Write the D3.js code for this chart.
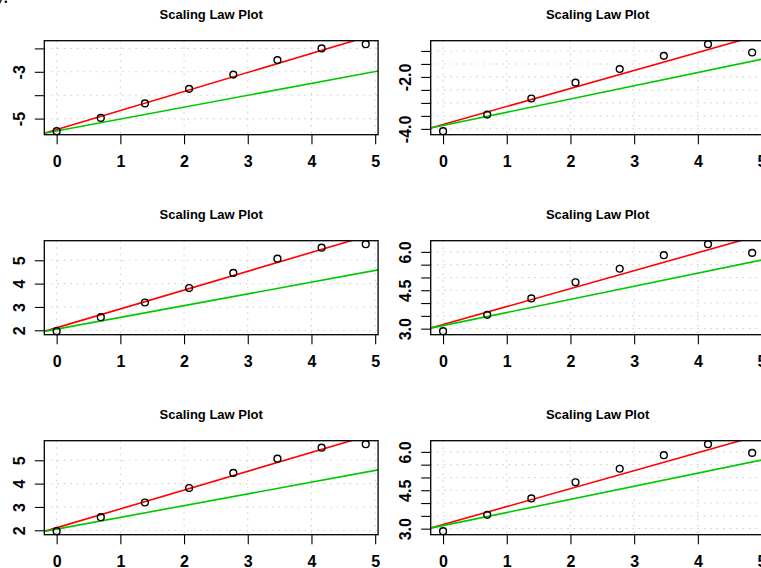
<!DOCTYPE html>
<html>
<head>
<meta charset="utf-8">
<script src="https://cdn.jsdelivr.net/npm/d3@7"></script>
<style>
  html, body { margin: 0; padding: 0; background: #fff; }
  svg { display: block; }
  text { font-family: "Liberation Sans", Arial, Helvetica, sans-serif; }
</style>
</head>
<body>
<script>
// log-scale predictor shared by every panel
const xVals = [0, 0.693, 1.386, 2.079, 2.773, 3.466, 4.159, 4.852];
const xTicks = [0, 1, 2, 3, 4, 5];

// observed responses, one array per panel type
const yLeft = [-5.54, -4.97, -4.35, -3.73, -3.12, -2.50, -2.00, -1.82];
const yRight = [-4.09, -3.45, -2.83, -2.22, -1.70, -1.19, -0.74, -1.06];
const yLeftShift = [1.96, 2.56, 3.19, 3.81, 4.46, 5.07, 5.54, 5.69];
const yRightShift = [2.90, 3.54, 4.18, 4.81, 5.34, 5.87, 6.30, 5.96];

// y-axis ticks and the labels printed at them (blank = tick only)
const ticksLeft = [-5, -4, -3, -2];
const labelsLeft = ["-5", "", "-3", ""];
const ticksRight = [-4, -3.5, -3, -2.5, -2, -1.5, -1];
const labelsRight = ["-4.0", "", "", "", "-2.0", "", ""];
const ticksLeftShift = [2, 3, 4, 5];
const labelsLeftShift = ["2", "3", "4", "5"];
const ticksRightShift = [3, 3.5, 4, 4.5, 5, 5.5, 6];
const labelsRightShift = ["3.0", "", "", "4.5", "", "", "6.0"];

// reference lines y = a + b x for each panel (red = fitted, green = slope 1/2)
const redIntercepts = [-5.47, -3.83, 2.11, 3.16, 2.11, 3.16];
const redSlopes = [0.814, 0.693, 0.807, 0.702, 0.807, 0.702];
const greenIntercepts = [-5.53, -3.87, 2.05, 3.12, 2.05, 3.12];
const greenSlopes = [0.508, 0.510, 0.503, 0.512, 0.503, 0.512];

const panelTitle = "Scaling Law Plot";

// panel wiring: 3 rows x 2 columns
const panelY = [yLeft, yRight, yLeftShift, yRightShift, yLeftShift, yRightShift];
const panelTicks = [ticksLeft, ticksRight, ticksLeftShift, ticksRightShift, ticksLeftShift, ticksRightShift];
const panelLabels = [labelsLeft, labelsRight, labelsLeftShift, labelsRightShift, labelsLeftShift, labelsRightShift];

// layout
const W = 761, H = 568;
const boxLeft0 = 44.3, boxTop0 = 40.7, colPitch = 386.4, rowPitch = 200;
const boxW = 333.8, boxH = 94;
const tickLen = 9.5;

const svg = d3.select("body").append("svg")
  .attr("width", W).attr("height", H)
  .attr("viewBox", `0 0 ${W} ${H}`);

// fragment of the preceding line of text above the figure
svg.append("text")
  .attr("x", -4).attr("y", 3)
  .style("font-family", "'Liberation Serif', 'DejaVu Serif', serif")
  .style("font-style", "italic")
  .style("font-size", "20px")
  .attr("fill", "#000")
  .text("y.");

// R-style range padding (4% each side)
function padded(vals) {
  const [lo, hi] = d3.extent(vals);
  const r = hi - lo;
  return [lo - 0.04 * r, hi + 0.04 * r];
}

const defs = svg.append("defs");

panelY.forEach((yVals, i) => {
  const col = i % 2, row = Math.floor(i / 2);
  const left = boxLeft0 + col * colPitch;
  const top = boxTop0 + row * rowPitch;

  const x = d3.scaleLinear().domain(padded(xVals)).range([left, left + boxW]);
  const y = d3.scaleLinear().domain(padded(yVals)).range([top + boxH, top]);

  const g = svg.append("g");
  const clipId = "clip" + i;
  defs.append("clipPath").attr("id", clipId)
    .append("rect").attr("x", left).attr("y", top).attr("width", boxW).attr("height", boxH);

  // dotted grid at the tick positions
  const grid = g.append("g")
    .attr("stroke", "#cfcfcf").attr("stroke-width", 1.1)
    .attr("stroke-dasharray", "1.5,5");
  grid.selectAll("line.v").data(xTicks).join("line").attr("class", "v")
    .attr("x1", d => x(d)).attr("x2", d => x(d))
    .attr("y1", top).attr("y2", top + boxH);
  grid.selectAll("line.h").data(panelTicks[i]).join("line").attr("class", "h")
    .attr("x1", left).attr("x2", left + boxW)
    .attr("y1", d => y(d)).attr("y2", d => y(d));

  // reference lines, clipped to the plot region
  const xd = x.domain();
  const lines = g.append("g").attr("clip-path", `url(#${clipId})`);
  const addLine = (a, b, color) => {
    lines.append("line")
      .attr("x1", x(xd[0])).attr("y1", y(a + b * xd[0]))
      .attr("x2", x(xd[1])).attr("y2", y(a + b * xd[1]))
      .attr("stroke", color).attr("stroke-width", 1.6);
  };
  addLine(redIntercepts[i], redSlopes[i], "#ff0000");
  addLine(greenIntercepts[i], greenSlopes[i], "#00c800");

  // observations (open circles)
  g.append("g").selectAll("circle")
    .data(xVals.map((xv, k) => [xv, yVals[k]]))
    .join("circle")
    .attr("cx", d => x(d[0])).attr("cy", d => y(d[1]))
    .attr("r", 3.4)
    .attr("fill", "none").attr("stroke", "#000").attr("stroke-width", 1.4);

  // plot box
  g.append("rect")
    .attr("x", left).attr("y", top).attr("width", boxW).attr("height", boxH)
    .attr("fill", "none").attr("stroke", "#000").attr("stroke-width", 1.3);

  // x axis
  const xAxis = g.append("g").attr("transform", `translate(0,${top + boxH})`);
  xAxis.call(d3.axisBottom(x).tickValues(xTicks).tickSize(tickLen).tickFormat(d3.format("d")));
  xAxis.select(".domain").remove();
  xAxis.selectAll(".tick line").attr("stroke", "#000").attr("stroke-width", 1.1);
  xAxis.selectAll(".tick text")
    .attr("y", 32.6).attr("dy", null)
    .style("font-size", "16px").style("font-weight", "bold")
    .attr("fill", "#000");

  // y axis with rotated labels
  const yAxis = g.append("g").attr("transform", `translate(${left},0)`);
  yAxis.call(d3.axisLeft(y).tickValues(panelTicks[i]).tickSize(tickLen)
    .tickFormat((d, k) => panelLabels[i][k]));
  yAxis.select(".domain").remove();
  yAxis.selectAll(".tick line").attr("stroke", "#000").attr("stroke-width", 1.1);
  yAxis.selectAll(".tick text")
    .attr("x", null).attr("dy", null)
    .attr("text-anchor", "middle")
    .attr("transform", "translate(-19.5,0) rotate(-90)")
    .style("font-size", "16px").style("font-weight", "bold")
    .attr("fill", "#000");

  // title
  g.append("text")
    .attr("x", left + boxW / 2).attr("y", top - 21.3)
    .attr("text-anchor", "middle")
    .style("font-size", "13px").style("font-weight", "bold")
    .attr("fill", "#000")
    .text(panelTitle);
});
</script>
</body>
</html>
